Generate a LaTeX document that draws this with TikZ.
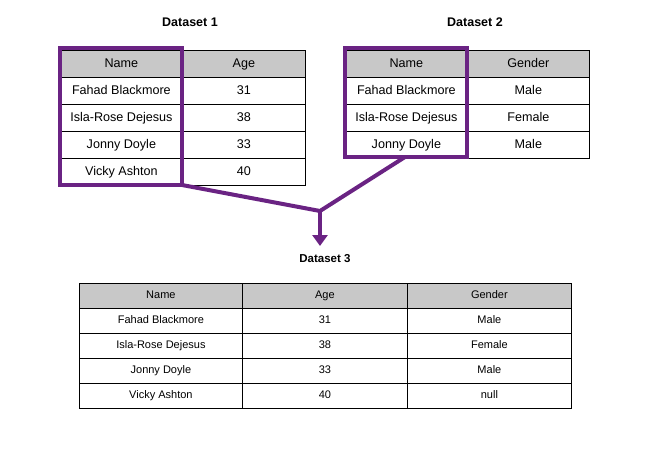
\documentclass[tikz,border=0pt]{standalone}
\usepackage{fontspec}
\setmainfont{Liberation Sans}
\usetikzlibrary{arrows.meta}
\definecolor{pur}{HTML}{6A2383}
\definecolor{hdr}{HTML}{C8C8C8}
\begin{document}
\begin{tikzpicture}[x=1pt,y=-1pt,
  cell/.style={draw=black,line width=0.8pt,anchor=north west,inner sep=0pt,text height=9pt,text depth=2.5pt,font=\fontsize{12.6}{14}\selectfont},
  hcell/.style={cell,fill=hdr},
  small/.style={font=\fontsize{11}{13}\selectfont,text height=8pt,text depth=2pt},
  ttl/.style={font=\bfseries\fontsize{12.5}{14}\selectfont},
  sel/.style={draw=pur,line width=3.2pt},
  flow/.style={pur,line width=4pt}]
\useasboundingbox (0,0) rectangle (649,461);
% Dataset 1
\node[ttl] (t1) at (190,22) {Dataset 1};
\foreach \t [count=\i from 0] in {Name,Fahad Blackmore,Isla-Rose Dejesus,Jonny Doyle,Vicky Ashton}{
  \ifnum\i=0 \node[hcell,minimum width=122pt,minimum height=27pt] (a\i) at (60,{50+27*\i}) {\t};
  \else \node[cell,minimum width=122pt,minimum height=27pt] (a\i) at (60,{50+27*\i}) {\t};\fi}
\foreach \t [count=\i from 0] in {Age,31,38,33,40}{
  \ifnum\i=0 \node[hcell,minimum width=123pt,minimum height=27pt] (b\i) at (182,{50+27*\i}) {\t};
  \else \node[cell,minimum width=123pt,minimum height=27pt] (b\i) at (182,{50+27*\i}) {\t};\fi}
\draw[sel] (60,48) rectangle (182,185);
% Dataset 2
\node[ttl] (t2) at (475,22) {Dataset 2};
\foreach \t [count=\i from 0] in {Name,Fahad Blackmore,Isla-Rose Dejesus,Jonny Doyle}{
  \ifnum\i=0 \node[hcell,minimum width=122pt,minimum height=27pt] (c\i) at (345,{50+27*\i}) {\t};
  \else \node[cell,minimum width=122pt,minimum height=27pt] (c\i) at (345,{50+27*\i}) {\t};\fi}
\foreach \t [count=\i from 0] in {Gender,Male,Female,Male}{
  \ifnum\i=0 \node[hcell,minimum width=122pt,minimum height=27pt] (d\i) at (467,{50+27*\i}) {\t};
  \else \node[cell,minimum width=122pt,minimum height=27pt] (d\i) at (467,{50+27*\i}) {\t};\fi}
\draw[sel] (345,48) rectangle (467,157);
% connector
\coordinate (j) at (320,211);
\coordinate (s1) at (182,185);
\coordinate (s2) at (405,157);
\draw[flow,line join=miter] (s1) -- (j) -- (s2);
\draw[flow,-{Triangle[length=11pt,width=15pt]}] (j) -- (320,246);
% Dataset 3
\node[ttl,font=\bfseries\fontsize{11.5}{13}\selectfont] (t3) at (325,259) {Dataset 3};
\foreach \t [count=\i from 0] in {Name,Fahad Blackmore,Isla-Rose Dejesus,Jonny Doyle,Vicky Ashton}{
  \ifnum\i=0 \node[hcell,small,minimum width=163pt,minimum height=25pt] (e\i) at (79,{283+25*\i}) {\t};
  \else \node[cell,small,minimum width=163pt,minimum height=25pt] (e\i) at (79,{283+25*\i}) {\t};\fi}
\foreach \t [count=\i from 0] in {Age,31,38,33,40}{
  \ifnum\i=0 \node[hcell,small,minimum width=165pt,minimum height=25pt] (f\i) at (242,{283+25*\i}) {\t};
  \else \node[cell,small,minimum width=165pt,minimum height=25pt] (f\i) at (242,{283+25*\i}) {\t};\fi}
\foreach \t [count=\i from 0] in {Gender,Male,Female,Male,null}{
  \ifnum\i=0 \node[hcell,small,minimum width=164pt,minimum height=25pt] (g\i) at (407,{283+25*\i}) {\t};
  \else \node[cell,small,minimum width=164pt,minimum height=25pt] (g\i) at (407,{283+25*\i}) {\t};\fi}
\end{tikzpicture}
\end{document}
